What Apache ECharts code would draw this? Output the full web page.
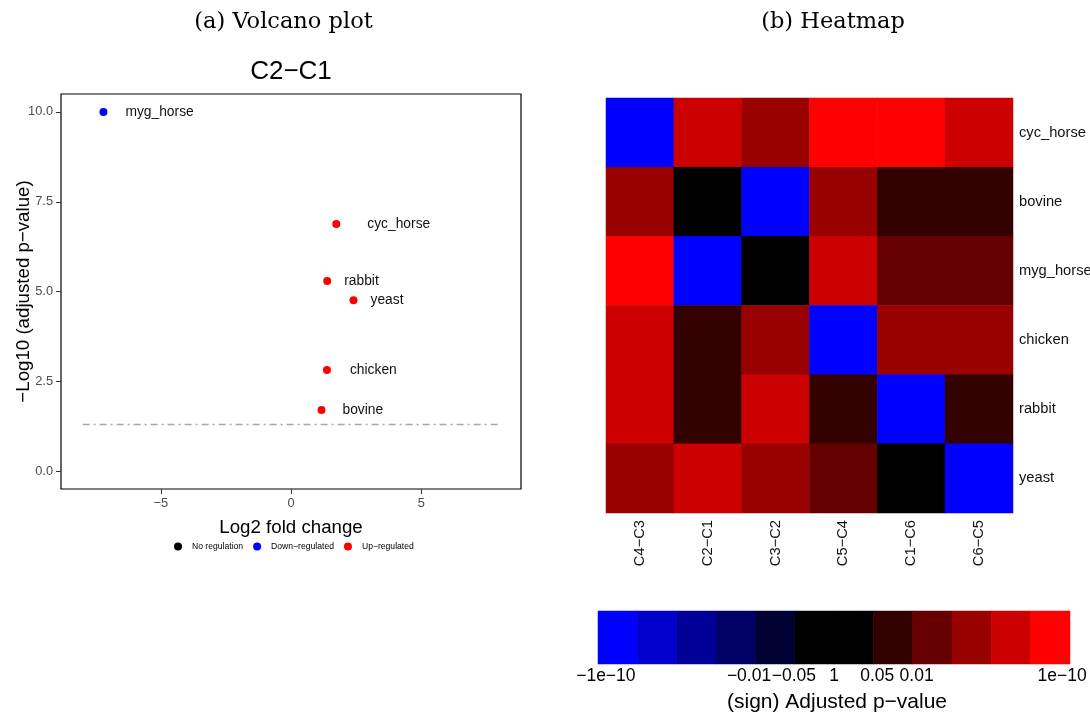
<!DOCTYPE html>
<html>
<head>
<meta charset="utf-8">
<script src="https://cdn.jsdelivr.net/npm/echarts@6/dist/echarts.min.js"></script>
<style>
html,body{margin:0;padding:0;background:#fff;}
#main{width:1090px;height:715px;}
</style>
</head>
<body>
<div id="main"></div>
<script>
// ---------- Volcano plot data ----------
const genes      = ['myg_horse', 'cyc_horse', 'rabbit', 'yeast', 'chicken', 'bovine'];
const log2FC     = [-7.2, 1.74, 1.39, 2.40, 1.38, 1.17];
const negLog10P  = [10.0, 6.88, 5.30, 4.76, 2.82, 1.71];
const regulation = ['Down', 'Up', 'Up', 'Up', 'Up', 'Up'];
const pThreshold = 0.05;
const xTicks = [-5, 0, 5];
const yTicks = [0, 2.5, 5, 7.5, 10];
const legendNames = ['No regulation', 'Down\u2212regulated', 'Up\u2212regulated'];

// ---------- Heatmap data (colour bin index 0..11) ----------
const hmRows = ['cyc_horse', 'bovine', 'myg_horse', 'chicken', 'rabbit', 'yeast'];
const hmCols = ['C4\u2212C3', 'C2\u2212C1', 'C3\u2212C2', 'C5\u2212C4', 'C1\u2212C6', 'C6\u2212C5'];
const hmBins = [
  [0, 10, 9, 11, 11, 10],
  [9, 5, 0, 9, 7, 7],
  [11, 0, 5, 10, 8, 8],
  [10, 7, 9, 0, 9, 9],
  [10, 7, 10, 7, 0, 7],
  [9, 10, 9, 8, 5, 0]
];
const colorBins = [0, 1, 2, 3, 4, 5, 6, 7, 8, 9, 10, 11];
const binColors = ['#0000FF', '#0000CC', '#000099', '#000066', '#000033', '#000000',
                   '#000000', '#330000', '#660000', '#990000', '#CC0000', '#FF0000'];
const cbTickPos    = [0.2, 3.84, 4.98, 6.0, 7.1, 8.1, 11.8];
const cbTickLabels = ['\u22121e\u221210', '\u22120.01', '\u22120.05', '1', '0.05', '0.01', '1e\u221210'];

// ---------- styling helpers (not data) ----------
const labelGap = [18, 27, 13, 13, 19, 17];
const FONT = "'Liberation Sans', Arial, sans-serif";
const minus = s => String(s).replace(/-/g, '\u2212');

const regColor = {None: '#000000', Down: '#0000FF', Up: '#FF0000'};
const regName = {None: legendNames[0], Down: legendNames[1], Up: legendNames[2]};

function seriesFor(reg) {
  const data = [];
  genes.forEach((g, i) => {
    if (regulation[i] === reg) {
      data.push({
        value: [log2FC[i], negLog10P[i]],
        name: g,
        label: {distance: labelGap[i]}
      });
    }
  });
  return {
    type: 'scatter', name: regName[reg], xAxisIndex: 0, yAxisIndex: 0,
    symbol: 'circle', symbolSize: 8,
    itemStyle: {color: regColor[reg], opacity: 1},
    label: {show: true, position: 'right', formatter: p => p.name,
            fontFamily: FONT, fontSize: 13.8, color: '#111'},
    emphasis: {disabled: true},
    data: data
  };
}

const heatData = [];
hmRows.forEach((r, ri) => hmCols.forEach((c, ci) => heatData.push([ci, ri, hmBins[ri][ci]])));
const cbData = colorBins.map((b, i) => [i, 0, b]);

const thresholdY = -Math.log10(pThreshold);

const chart = echarts.init(document.getElementById('main'), null, {renderer: 'canvas'});
const upSeries = seriesFor('Up');
upSeries.markLine = {
  silent: true, symbol: 'none', label: {show: false},
  lineStyle: {color: '#a8a8a8', width: 1.3, type: [7, 4, 2, 4], opacity: 1},
  data: [[{coord: [-8, thresholdY]}, {coord: [8, thresholdY]}]]
};

const option = {
  animation: false,
  textStyle: {fontFamily: FONT},
  grid: [
    {left: 61, top: 94, width: 460, height: 395, show: true, borderColor: '#000', borderWidth: 1.2,
     backgroundColor: 'transparent', outerBoundsMode: 'none', containLabel: false},
    {left: 606, top: 98, width: 407, height: 415, outerBoundsMode: 'none', containLabel: false},
    {left: 598, top: 611, width: 472, height: 53, outerBoundsMode: 'none', containLabel: false}
  ],
  xAxis: [
    {type: 'value', gridIndex: 0, min: -8.83, max: 8.83,
     name: 'Log2 fold change', nameLocation: 'middle', nameGap: 29, nameMoveOverlap: false,
     nameTextStyle: {fontSize: 18.7, color: '#000', fontFamily: FONT},
     axisLine: {show: false, onZero: false}, splitLine: {show: false},
     axisTick: {show: true, length: 5, customValues: xTicks, lineStyle: {color: '#333'}},
     axisLabel: {customValues: xTicks, formatter: v => minus(v), fontSize: 12.8, color: '#4d4d4d', margin: 8}},
    {type: 'category', gridIndex: 1, data: hmCols, position: 'bottom',
     axisLine: {show: false}, axisTick: {show: false}, splitLine: {show: false},
     axisLabel: {rotate: 90, fontSize: 14.7, color: '#111', margin: 7}},
    {type: 'category', gridIndex: 2, data: colorBins, show: false},
    {type: 'value', gridIndex: 2, min: 0, max: 12, position: 'bottom',
     axisLine: {show: false, onZero: false}, axisTick: {show: false}, splitLine: {show: false},
     axisLabel: {customValues: cbTickPos, formatter: v => cbTickLabels[cbTickPos.indexOf(v)],
                 fontSize: 17.5, color: '#000', margin: 3, hideOverlap: false}}
  ],
  yAxis: [
    {type: 'value', gridIndex: 0, min: -0.49, max: 10.5,
     name: '\u2212Log10 (adjusted p\u2212value)', nameLocation: 'middle', nameGap: 28, nameMoveOverlap: false,
     nameTextStyle: {fontSize: 18.7, color: '#000', fontFamily: FONT},
     axisLine: {show: false, onZero: false}, splitLine: {show: false},
     axisTick: {show: true, length: 5, customValues: yTicks, lineStyle: {color: '#333'}},
     axisLabel: {customValues: yTicks, formatter: v => v.toFixed(1), fontSize: 12.8, color: '#4d4d4d', margin: 8}},
    {type: 'category', gridIndex: 1, data: hmRows, position: 'right', inverse: true,
     axisLine: {show: false}, axisTick: {show: false}, splitLine: {show: false},
     axisLabel: {fontSize: 14.7, color: '#111', margin: 6}},
    {type: 'category', gridIndex: 2, data: ['cb'], show: false}
  ],
  visualMap: {
    type: 'piecewise', show: false, dimension: 2, seriesIndex: [3, 4],
    pieces: colorBins.map(b => ({value: b, color: binColors[b]}))
  },
  legend: {
    data: legendNames, left: 174, top: 542, padding: 0, icon: 'circle',
    itemWidth: 8, itemHeight: 8, itemGap: 10, selectedMode: false,
    textStyle: {fontSize: 8.6, color: '#000', fontFamily: FONT, padding: [0, 0, 0, 5]}
  },
  series: [
    {type: 'scatter', name: legendNames[0], xAxisIndex: 0, yAxisIndex: 0, symbolSize: 8,
     itemStyle: {color: '#000', opacity: 1}, data: []},
    seriesFor('Down'),
    upSeries,
    {type: 'heatmap', xAxisIndex: 1, yAxisIndex: 1, data: heatData,
     itemStyle: {borderWidth: 0}, emphasis: {disabled: true}},
    {type: 'heatmap', xAxisIndex: 2, yAxisIndex: 2, data: cbData,
     itemStyle: {borderWidth: 0}, emphasis: {disabled: true}}
  ],
  graphic: [
    {type: 'text', x: 283.5, y: 22, style: {text: '(a) Volcano plot', font: "22.5px 'DejaVu Serif', serif", fill: '#000', textAlign: 'center', textVerticalAlign: 'middle'}},
    {type: 'text', x: 833, y: 22, style: {text: '(b) Heatmap', font: "22.5px 'DejaVu Serif', serif", fill: '#000', textAlign: 'center', textVerticalAlign: 'middle'}},
    {type: 'text', x: 291, y: 72, style: {text: 'C2\u2212C1', font: "26px 'Liberation Sans', Arial", fill: '#000', textAlign: 'center', textVerticalAlign: 'middle'}},
    {type: 'text', x: 837, y: 702, style: {text: '(sign) Adjusted p\u2212value', font: "21px 'Liberation Sans', Arial", fill: '#000', textAlign: 'center', textVerticalAlign: 'middle'}}
  ]
};
chart.setOption(option);
</script>
</body>
</html>
